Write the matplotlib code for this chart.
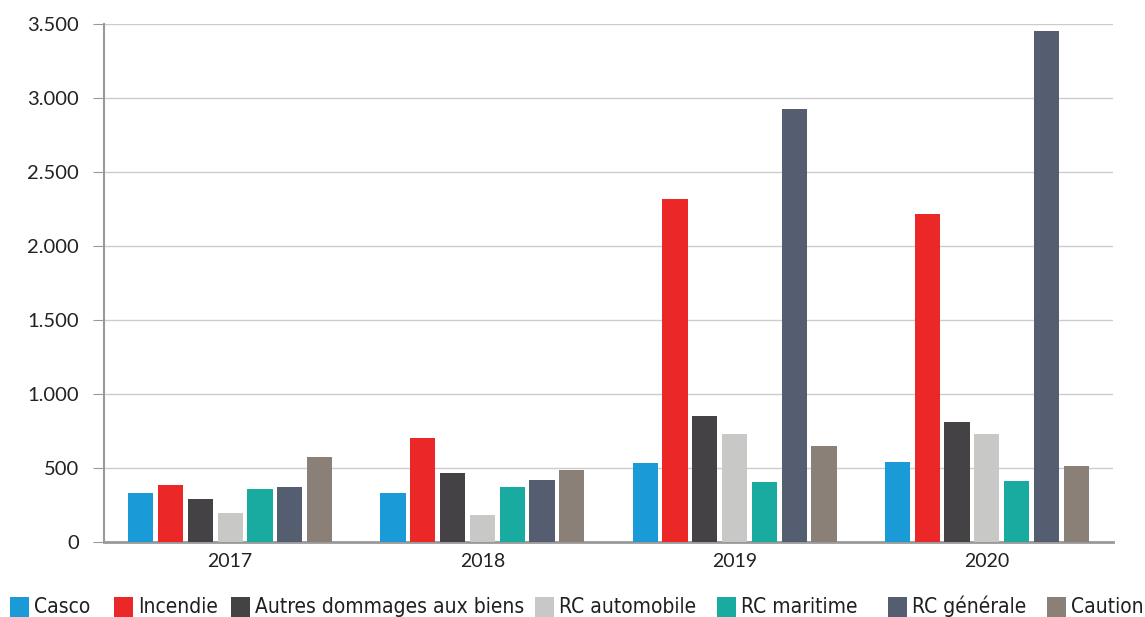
import matplotlib
matplotlib.use("Agg")
import matplotlib.pyplot as plt
import numpy as np
from matplotlib.patches import Rectangle
from matplotlib.ticker import FuncFormatter
from matplotlib import font_manager as fm

years = ["2017", "2018", "2019", "2020"]
series = ["Casco", "Incendie", "Autres dommages aux biens", "RC automobile",
          "RC maritime", "RC générale", "Caution"]
casco = [331, 333, 534, 541]
incendie = [385, 703, 2318, 2216]
autres = [290, 466, 851, 811]
rc_auto = [196, 182, 730, 730]
rc_maritime = [358, 372, 405, 412]
rc_generale = [372, 419, 2926, 3455]
caution = [574, 487, 649, 514]
values = [casco, incendie, autres, rc_auto, rc_maritime, rc_generale, caution]
colors = ["#1a9ad6", "#ec2727", "#444244", "#c8c8c6", "#1aaba0", "#555e70", "#8a8077"]

W, H = 1145, 617
fig = plt.figure(figsize=(W / 100, H / 100), dpi=100)
ax = fig.add_axes([104 / W, 75 / H, 1009 / W, 518 / H])

x = np.arange(len(years))
step = 0.118
width = 0.10
for i, (vals, c) in enumerate(zip(values, colors)):
    ax.bar(x + (i - 3) * step, vals, width=width, color=c, zorder=3)

ax.set_xlim(-0.5, 3.5)
ax.set_ylim(0, 3500)
ax.set_yticks(np.arange(0, 3501, 500))
ax.yaxis.set_major_formatter(FuncFormatter(lambda v, p: f"{int(v):,}".replace(",", ".")))
ax.set_xticks(x)
ax.set_xticklabels(years)
ax.grid(axis="y", color="#cccccc", linewidth=1, zorder=0)
for s in ["top", "right"]:
    ax.spines[s].set_visible(False)
ax.spines["left"].set_color("#999999")
ax.spines["left"].set_linewidth(1.5)
ax.spines["bottom"].set_color("#999999")
ax.spines["bottom"].set_linewidth(2)
ax.tick_params(axis="y", length=8, color="#999999", labelsize=14.5, pad=10, labelcolor="#222222")
ax.tick_params(axis="x", length=0, labelsize=14, pad=8, labelcolor="#222222")
for lab in ax.get_yticklabels() + ax.get_xticklabels():
    lab.set_family(["Lato", "DejaVu Sans"])

# legend, laid out along the bottom edge as in the reference
sq_left = [10, 114, 231, 535, 717, 888, 1047]
txt_right_limit = [110, 228, 530, 712, 883, 1043, 1144]
sq_w, sq_h = 19, 20
sq_top = 597
baseline = 613
fontsize = 15
texts = []
for sl, lab, c in zip(sq_left, series, colors):
    fig.add_artist(Rectangle((sl / W, (H - sq_top - sq_h) / H), sq_w / W, sq_h / H,
                             transform=fig.transFigure, facecolor=c, edgecolor="none"))
    t = fig.text((sl + sq_w + 5) / W, (H - baseline) / H, lab, ha="left", va="baseline",
                 fontsize=fontsize, color="#231f20",
                 family=["DejaVu Sans", "Noto Sans"], fontstretch="condensed")
    texts.append(t)

fig.canvas.draw()
r = fig.canvas.get_renderer()
ratio = 1.0
for t, sl, lim in zip(texts, sq_left, txt_right_limit):
    bb = t.get_window_extent(r)
    avail = lim - (sl + sq_w + 5)
    ratio = max(ratio, bb.width / avail)
if ratio > 1.0:
    for t in texts:
        t.set_fontsize(fontsize / ratio)

fig.savefig("out.png", dpi=100)
